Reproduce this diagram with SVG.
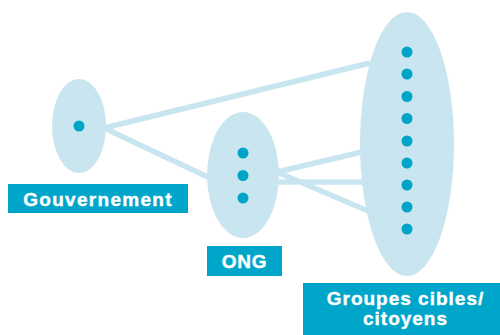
<svg xmlns="http://www.w3.org/2000/svg" width="500" height="335" viewBox="0 0 500 335">
<style>
.conn{stroke:#c9e6f0;stroke-width:5.5;fill:none}
.blob{fill:#c9e6f0}
.dot{fill:#00a4c7}
.box{fill:#00a6c9}
.lbl{fill:#fff;stroke:#fff;stroke-width:0.4;font-family:"Liberation Sans",Arial,sans-serif;font-weight:bold;font-size:19px;text-anchor:middle}
</style>
<rect width="500" height="335" fill="#fff"/>
<g id="connectors">
<line class="conn" x1="104" y1="128" x2="370" y2="63"/>
<line class="conn" x1="104" y1="128" x2="212" y2="179"/>
<line class="conn" x1="277" y1="172" x2="366" y2="151"/>
<line class="conn" x1="272" y1="182" x2="366" y2="182"/>
<line class="conn" x1="277" y1="172" x2="368" y2="211"/>
</g>
<g id="gouvernement">
<ellipse class="blob" cx="79" cy="126" rx="27" ry="47"/>
<circle class="dot" cx="79" cy="126" r="5.5"/>
<rect class="box" x="8" y="184" width="180" height="29"/>
<text class="lbl" x="98" y="206" letter-spacing="1.3">Gouvernement</text>
</g>
<g id="ong">
<ellipse class="blob" cx="243" cy="175" rx="36" ry="63"/>
<circle class="dot" cx="243" cy="153" r="5.5"/>
<circle class="dot" cx="243" cy="175.5" r="5.5"/>
<circle class="dot" cx="243" cy="198" r="5.5"/>
<rect class="box" x="207" y="246" width="75" height="30"/>
<text class="lbl" x="244.5" y="268" letter-spacing="0.8">ONG</text>
</g>
<g id="groupes">
<ellipse class="blob" cx="407" cy="144" rx="47" ry="132"/>
<circle class="dot" cx="407" cy="52" r="5.5"/>
<circle class="dot" cx="407" cy="74" r="5.5"/>
<circle class="dot" cx="407" cy="96.5" r="5.5"/>
<circle class="dot" cx="407" cy="118.5" r="5.5"/>
<circle class="dot" cx="407" cy="141" r="5.5"/>
<circle class="dot" cx="407" cy="163" r="5.5"/>
<circle class="dot" cx="407" cy="185" r="5.5"/>
<circle class="dot" cx="407" cy="207" r="5.5"/>
<circle class="dot" cx="407" cy="229" r="5.5"/>
<rect class="box" x="303" y="283" width="197" height="52"/>
<text class="lbl" x="405.5" y="305" letter-spacing="1">Groupes cibles/</text>
<text class="lbl" x="405.5" y="325" letter-spacing="1">citoyens</text>
</g>
</svg>
